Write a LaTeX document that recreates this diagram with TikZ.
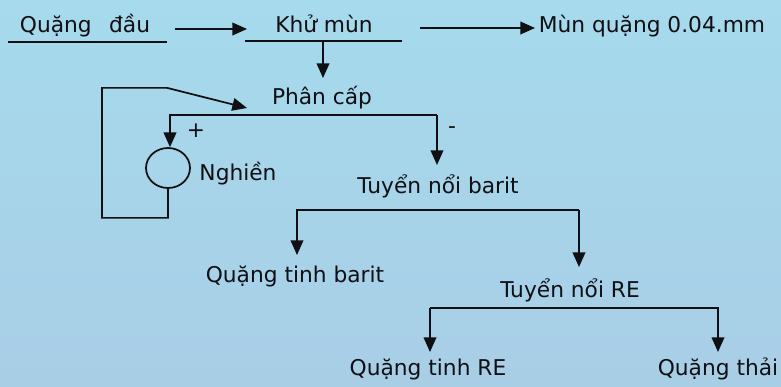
\documentclass[tikz,border=0pt]{standalone}
\usepackage{fontspec}
\setmainfont{DejaVu Sans}
\usetikzlibrary{arrows.meta,shapes.geometric}
\definecolor{bgtop}{RGB}{166,218,236}
\definecolor{bgbot}{RGB}{168,206,230}
\definecolor{ink}{RGB}{15,15,20}
\begin{document}
\begin{tikzpicture}[x=0.75pt,y=-0.75pt,
  lbl/.style={anchor=base,inner sep=0pt,text=ink,font=\fontsize{16.3}{19}\selectfont},
  ln/.style={line width=1.3pt,draw=ink},
  arr/.style={ln,-{Triangle[length=11pt,width=9.5pt]}},
  mill/.style={draw=ink,ellipse,line width=1.3pt,minimum width=33pt,minimum height=30pt,inner sep=0pt}]
\shade[top color=bgtop,bottom color=bgbot] (0,0) rectangle (781,386);
\useasboundingbox (0,0) rectangle (781,386);
% nodes
\node[lbl] (qd) at (85,32) {Quặng\hspace{0.8em}đầu};
\node[lbl] (km) at (324,32) {Khử mùn};
\node[lbl] (mq) at (652,32) {Mùn quặng 0.04.mm};
\node[lbl] (pc) at (322,104) {Phân cấp};
\node[mill] (ml) at (168,168) {};
\node[lbl] (ng) at (238,180) {Nghiền};
\node[lbl] (tnb) at (438,193) {Tuyển nổi barit};
\node[lbl] (qtb) at (295,282) {Quặng tinh barit};
\node[lbl] (tnre) at (570,297) {Tuyển nổi RE};
\node[lbl] (qtre) at (428,375) {Quặng tinh RE};
\node[lbl] (qt) at (718,375) {Quặng thải};
\node[lbl,anchor=center] (plus) at (196,131) {+};
\node[lbl,anchor=center] (minus) at (452,130) {-};
% underlines
\draw[ln] ([shift={(-77,10)}]qd.base) -- ([shift={(82,10)}]qd.base);
\draw[ln] ([shift={(-79,9)}]km.base) -- ([shift={(78,9)}]km.base);
% connectors
\draw[arr] ([shift={(90,-3)}]qd.base) -- ([shift={(-77,-3)}]km.base);
\draw[arr] ([shift={(96,-4)}]km.base) -- ([shift={(-117,-4)}]mq.base);
\draw[arr] ([shift={(-1,9)}]km.base) -- ([shift={(1,-26)}]pc.base);
\draw[arr] (ml.south) -- ++(0,29) -- ++(-66,0) -- ++(0,-130) -- ++(65,0) -- ([shift={(-75,4)}]pc.base);
\draw[arr] ([shift={(115,11)}]pc.base) -| ([xshift=1.5pt]ml.north);
\draw[arr] ([shift={(115,11)}]pc.base) -- ([shift={(-1,-28)}]tnb.base);
\draw[arr] ([shift={(141,17)}]tnb.base) -| ([shift={(2,-27)}]qtb.base);
\draw[arr] ([shift={(141,17)}]tnb.base) -- ([shift={(9,-30)}]tnre.base);
\draw[arr] ([shift={(-140,11)}]tnre.base) -- ([shift={(148,11)}]tnre.base) -- ([shift={(0,-23)}]qt.base);
\draw[arr] ([shift={(-140,11)}]tnre.base) -- ([shift={(2,-23)}]qtre.base);
\end{tikzpicture}
\end{document}
